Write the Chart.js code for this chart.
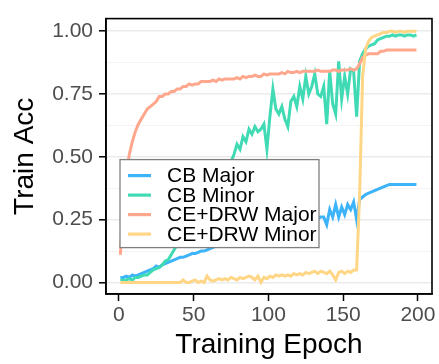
<!DOCTYPE html>
<html>
<head>
<meta charset="utf-8">
<script src="https://cdn.jsdelivr.net/npm/chart.js@4"></script>
<style>
  html, body { margin: 0; padding: 0; background: #fff; }
  canvas { display: block; }
</style>
</head>
<body>
<canvas id="grafico" width="439" height="364"></canvas>
<script>
// ===============================
// DATA
// ===============================
const seriesNames = ["CB Major", "CB Minor", "CE+DRW Major", "CE+DRW Minor"];
const seriesColors = ["#3DB3FA", "#40DAB4", "#FFA78C", "#FFD586"];

// epochs 1, 3, 5, ... 199
const epochs = Array.from({ length: 100 }, (_, i) => 2 * i + 1);

const cbMajor = [
  0.02, 0.02, 0.025, 0.02, 0.03, 0.025, 0.03, 0.035, 0.04, 0.045,
  0.05, 0.055, 0.065, 0.06, 0.07, 0.075, 0.08, 0.085, 0.09, 0.095,
  0.10, 0.10, 0.105, 0.11, 0.115, 0.115, 0.12, 0.125, 0.125, 0.13,
  0.135, 0.14, 0.145, 0.15, 0.15, 0.155, 0.155, 0.16, 0.16, 0.165,
  0.17, 0.165, 0.175, 0.18, 0.18, 0.185, 0.19, 0.19, 0.195, 0.20,
  0.20, 0.205, 0.21, 0.21, 0.215, 0.22, 0.22, 0.225, 0.23, 0.23,
  0.235, 0.24, 0.24, 0.245, 0.25, 0.25, 0.255, 0.26, 0.26, 0.23,
  0.29, 0.26, 0.31, 0.26, 0.30, 0.27, 0.31, 0.29, 0.32, 0.25,
  0.33, 0.34, 0.35, 0.355, 0.36, 0.365, 0.37, 0.375, 0.38, 0.385,
  0.39, 0.39, 0.39, 0.39, 0.39, 0.39, 0.39, 0.39, 0.39, 0.39
];

const cbMinor = [
  0.01, 0.01, 0.01, 0.015, 0.01, 0.02, 0.02, 0.025, 0.03, 0.03,
  0.04, 0.05, 0.055, 0.06, 0.07, 0.085, 0.09, 0.11, 0.13, 0.15,
  0.17, 0.19, 0.21, 0.22, 0.25, 0.26, 0.28, 0.30, 0.31, 0.33,
  0.34, 0.37, 0.39, 0.40, 0.42, 0.45, 0.44, 0.48, 0.51, 0.55,
  0.53, 0.58, 0.56, 0.61, 0.59, 0.62, 0.60, 0.61, 0.63, 0.53,
  0.66, 0.77, 0.69, 0.67, 0.70, 0.65, 0.62, 0.72, 0.74, 0.70,
  0.78, 0.73, 0.82, 0.75, 0.78, 0.83, 0.75, 0.74, 0.78, 0.63,
  0.84, 0.71, 0.67, 0.88, 0.73, 0.82, 0.75, 0.85, 0.84, 0.66,
  0.88, 0.91, 0.93, 0.94, 0.945, 0.95, 0.965, 0.97, 0.975, 0.98,
  0.98, 0.985, 0.98, 0.985, 0.985, 0.98, 0.985, 0.985, 0.98, 0.985
];

const ceMajor = [
  0.11, 0.30, 0.43, 0.51, 0.56, 0.60, 0.63, 0.65, 0.67, 0.69,
  0.70, 0.71, 0.72, 0.74, 0.74, 0.75, 0.75, 0.76, 0.76, 0.77,
  0.77, 0.78, 0.78, 0.79, 0.785, 0.79, 0.79, 0.80, 0.80, 0.80,
  0.80, 0.805, 0.80, 0.81, 0.805, 0.81, 0.81, 0.81, 0.81, 0.815,
  0.81, 0.82, 0.815, 0.82, 0.82, 0.825, 0.82, 0.82, 0.83, 0.825,
  0.83, 0.83, 0.83, 0.83, 0.835, 0.83, 0.84, 0.835, 0.835, 0.84,
  0.835, 0.84, 0.84, 0.84, 0.84, 0.84, 0.845, 0.84, 0.84, 0.84,
  0.84, 0.845, 0.845, 0.84, 0.845, 0.845, 0.845, 0.85, 0.845, 0.85,
  0.87, 0.895, 0.905, 0.91, 0.91, 0.91, 0.91, 0.92, 0.92, 0.925,
  0.925, 0.925, 0.925, 0.925, 0.925, 0.925, 0.925, 0.925, 0.925, 0.925
];

const ceMinor = [
  0.00, 0.00, 0.00, 0.00, 0.00, 0.00, 0.00, 0.00, 0.00, 0.00,
  0.00, 0.00, 0.00, 0.00, 0.00, 0.00, 0.00, 0.00, 0.00, 0.00,
  0.00, 0.01, 0.00, 0.00, 0.005, 0.01, 0.00, 0.005, 0.00, 0.025,
  0.01, 0.005, 0.01, 0.015, 0.01, 0.015, 0.01, 0.02, 0.015, 0.01,
  0.02, 0.015, 0.02, 0.025, 0.02, 0.01, 0.025, 0.00, 0.02, 0.015,
  0.025, 0.02, 0.03, 0.025, 0.03, 0.025, 0.03, 0.025, 0.035, 0.03,
  0.035, 0.03, 0.04, 0.035, 0.04, 0.045, 0.035, 0.045, 0.04, 0.035,
  0.045, 0.03, 0.01, 0.04, 0.045, 0.035, 0.045, 0.04, 0.05, 0.05,
  0.35, 0.82, 0.93, 0.96, 0.975, 0.98, 0.985, 0.99, 0.995, 0.995,
  1.00, 1.00, 0.995, 1.00, 1.00, 0.995, 1.00, 1.00, 1.00, 1.00
];

const allSeries = [cbMajor, cbMinor, ceMajor, ceMinor];

const xTickValues = [0, 50, 100, 150, 200];
const yTickValues = [0, 0.125, 0.25, 0.375, 0.5, 0.625, 0.75, 0.875, 1.0];
const yMajorTicks = [0, 0.25, 0.5, 0.75, 1.0];

// ===============================
// PLUGINS (legend box + panel border)
// ===============================
const leyendaDentro = {
  id: "leyendaDentro",
  afterDatasetsDraw(chart) {
    const { ctx, chartArea } = chart;
    const bx = chartArea.left + 14;
    const by = chartArea.top + 141;
    ctx.save();
    ctx.fillStyle = "#fff";
    ctx.fillRect(bx, by, 199, 88);
    ctx.strokeStyle = "#7f7f7f";
    ctx.lineWidth = 1.3;
    ctx.strokeRect(bx, by, 199, 88);
    ctx.font = "21px 'Liberation Sans', Arial, sans-serif";
    ctx.textBaseline = "middle";
    seriesNames.forEach((name, k) => {
      const y = by + 16 + k * 19.5;
      ctx.strokeStyle = seriesColors[k];
      ctx.lineWidth = 3.2;
      ctx.beginPath();
      ctx.moveTo(bx + 8, y);
      ctx.lineTo(bx + 31, y);
      ctx.stroke();
      ctx.fillStyle = "#000";
      ctx.fillText(name, bx + 47, y + 1);
    });
    ctx.restore();
  },
  afterDraw(chart) {
    const { ctx, chartArea } = chart;
    ctx.save();
    ctx.strokeStyle = "#000";
    ctx.lineWidth = 1.6;
    ctx.strokeRect(chartArea.left, chartArea.top,
      chartArea.right - chartArea.left, chartArea.bottom - chartArea.top);
    ctx.restore();
  }
};

// ===============================
// CHART
// ===============================
const fuente = "'Liberation Sans', Arial, sans-serif";
const ctx = document.getElementById("grafico").getContext("2d");

const grafico = new Chart(ctx, {
  type: "line",
  data: {
    datasets: allSeries.map((serie, k) => ({
      label: seriesNames[k],
      data: epochs.map((e, i) => ({ x: e, y: serie[i] })),
      borderColor: seriesColors[k],
      borderWidth: 3,
      pointRadius: 0,
      tension: 0,
      order: allSeries.length - k
    }))
  },
  options: {
    responsive: false,
    devicePixelRatio: 1,
    animation: false,
    layout: { padding: { top: 10, right: 7, left: 0, bottom: 0 } },
    plugins: {
      legend: { display: false },
      tooltip: { enabled: false }
    },
    scales: {
      x: {
        type: "linear",
        min: -8.6,
        max: 209.4,
        afterBuildTicks: (scale) => { scale.ticks = xTickValues.map(v => ({ value: v })); },
        afterFit: (scale) => { scale.height = 70; },
        grid: { drawOnChartArea: false, drawTicks: true, tickLength: 7, tickColor: "#000", tickWidth: 1.5 },
        border: { color: "#000", width: 1.6 },
        ticks: { color: "#4d4d4d", font: { size: 21, family: fuente }, padding: 2, maxRotation: 0 },
        title: { display: true, text: "Training Epoch", color: "#000", font: { size: 28, family: fuente }, padding: { top: 0, bottom: 2 } }
      },
      y: {
        type: "linear",
        min: -0.046,
        max: 1.05,
        afterBuildTicks: (scale) => { scale.ticks = yTickValues.map(v => ({ value: v })); },
        afterFit: (scale) => { scale.width = 106; },
        grid: {
          color: (c) => yMajorTicks.includes(c.tick.value) ? "#ebebeb" : "#f3f3f3",
          lineWidth: (c) => yMajorTicks.includes(c.tick.value) ? 1.6 : 1,
          tickColor: (c) => yMajorTicks.includes(c.tick.value) ? "#000" : "rgba(0,0,0,0)",
          tickLength: 7,
          tickWidth: 1.5
        },
        border: { color: "#000", width: 1.6 },
        ticks: {
          color: "#4d4d4d",
          font: { size: 21, family: fuente },
          padding: 6,
          callback: (v) => yMajorTicks.includes(v) ? v.toFixed(2) : ""
        },
        title: { display: true, text: "Train Acc", color: "#000", font: { size: 28, family: fuente }, padding: { top: 8, bottom: 0 } }
      }
    }
  },
  plugins: [leyendaDentro]
});
</script>
</body>
</html>
